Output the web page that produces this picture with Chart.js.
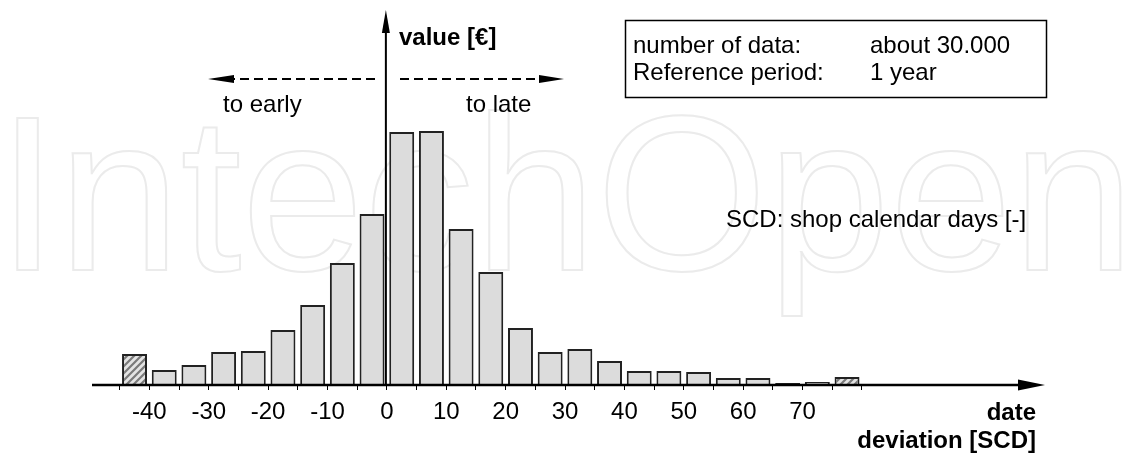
<!DOCTYPE html>
<html>
<head>
<meta charset="utf-8">
<script src="https://cdn.jsdelivr.net/npm/chart.js@4/dist/chart.umd.min.js"></script>
<style>
  body { margin: 0; background: #fff; }
  #wrap { width: 1145px; height: 455px; position: relative; }
</style>
</head>
<body>
<div id="wrap"><canvas id="histChart"></canvas></div>
<script>
// bin centres of the 5-SCD classes (first and last are the open end classes)
const binCenters = [-42.5, -37.5, -32.5, -27.5, -22.5, -17.5, -12.5, -7.5, -2.5, 2.5, 7.5, 12.5,
  17.5, 22.5, 27.5, 32.5, 37.5, 42.5, 47.5, 52.5, 57.5, 62.5, 67.5, 72.5, 77.5];
const binValues = [31, 15, 20, 33, 34, 55, 80, 122, 171, 253, 254, 156,
  113, 57, 33, 36, 24, 14, 14, 13, 7, 7, 2, 3, 8];
const openBins = [-42.5, 77.5];
const binEdges = [-45, -40, -35, -30, -25, -20, -15, -10, -5, 0, 5, 10, 15, 20, 25,
  30, 35, 40, 45, 50, 55, 60, 65, 70, 75, 80];
const tickLabels = [-40, -30, -20, -10, 0, 10, 20, 30, 40, 50, 60, 70];

const FONT = "'Liberation Sans', Arial, sans-serif";
Chart.defaults.font.family = FONT;

function hatchPattern() {
  const c = document.createElement("canvas");
  c.width = 7; c.height = 7;
  const g = c.getContext("2d");
  g.fillStyle = "#e4e4e4";
  g.fillRect(0, 0, 7, 7);
  g.strokeStyle = "#7a7a7a";
  g.lineWidth = 2.2;
  g.beginPath();
  g.moveTo(-2, 9); g.lineTo(9, -2);
  g.moveTo(-2, 2); g.lineTo(2, -2);
  g.moveTo(5, 9); g.lineTo(9, 5);
  g.stroke();
  return g.createPattern(c, "repeat");
}
const hatch = hatchPattern();

function text(ctx, str, x, y, opts) {
  ctx.save();
  ctx.font = (opts && opts.bold ? "bold " : "") + "24px " + FONT;
  ctx.fillStyle = "#000";
  ctx.textAlign = (opts && opts.align) || "left";
  ctx.textBaseline = "alphabetic";
  ctx.fillText(str, x, y);
  ctx.restore();
}

const decor = {
  id: "decor",
  beforeDraw(chart) {
    const ctx = chart.ctx;
    ctx.save();
    ctx.fillStyle = "#fff";
    ctx.fillRect(0, 0, chart.width, chart.height);
    // faint publisher watermark
    ctx.font = "220px " + FONT;
    ctx.strokeStyle = "#ebebeb";
    ctx.lineWidth = 2;
    ctx.strokeText("IntechOpen", -3, 270);
    ctx.restore();
  },
  afterDraw(chart) {
    const ctx = chart.ctx;
    const area = chart.chartArea;
    const xs = chart.scales.x;
    const b = area.bottom;
    ctx.save();
    ctx.strokeStyle = "#000";
    ctx.fillStyle = "#000";

    // x axis with arrow
    ctx.lineWidth = 2.5;
    ctx.beginPath();
    ctx.moveTo(92, b);
    ctx.lineTo(1022, b);
    ctx.stroke();
    ctx.beginPath();
    ctx.moveTo(1018, b - 5.5);
    ctx.lineTo(1045, b);
    ctx.lineTo(1018, b + 5.5);
    ctx.closePath();
    ctx.fill();

    // y axis with arrow
    const x0 = xs.getPixelForValue(0) - 1;
    ctx.lineWidth = 2;
    ctx.beginPath();
    ctx.moveTo(x0, b);
    ctx.lineTo(x0, 30);
    ctx.stroke();
    ctx.beginPath();
    ctx.moveTo(x0 - 4, 33);
    ctx.lineTo(x0, 10);
    ctx.lineTo(x0 + 4, 33);
    ctx.closePath();
    ctx.fill();

    // dashed direction arrows
    ctx.lineWidth = 2;
    ctx.setLineDash([9, 5]);
    ctx.beginPath();
    ctx.moveTo(375, 79); ctx.lineTo(232, 79);
    ctx.moveTo(400, 79); ctx.lineTo(541, 79);
    ctx.stroke();
    ctx.setLineDash([]);
    ctx.beginPath();
    ctx.moveTo(234, 75); ctx.lineTo(208, 79); ctx.lineTo(234, 83); ctx.closePath();
    ctx.moveTo(539, 75); ctx.lineTo(564, 79); ctx.lineTo(539, 83); ctx.closePath();
    ctx.fill();

    // info box
    ctx.lineWidth = 1.5;
    ctx.strokeRect(625.5, 20.5, 421, 77);
    ctx.restore();

    text(ctx, "value [€]", 399, 45, { bold: true });
    text(ctx, "to early", 223, 112);
    text(ctx, "to late", 466, 112);
    text(ctx, "number of data:", 633, 53);
    text(ctx, "about 30.000", 870, 53);
    text(ctx, "Reference period:", 633, 80);
    text(ctx, "1 year", 870, 80);
    text(ctx, "SCD: shop calendar days [-]", 726, 227);
    text(ctx, "date", 1036, 420, { bold: true, align: "right" });
    text(ctx, "deviation [SCD]", 1036, 448, { bold: true, align: "right" });
  }
};

new Chart(document.getElementById("histChart"), {
  type: "bar",
  data: {
    datasets: [{
      data: binCenters.map((c, i) => ({ x: c, y: binValues[i] })),
      backgroundColor: binCenters.map(c => openBins.includes(c) ? hatch : "#dcdcdc"),
      borderColor: "#222",
      borderWidth: 2,
      categoryPercentage: 1,
      barPercentage: 0.84
    }]
  },
  options: {
    responsive: true,
    maintainAspectRatio: false,
    animation: false,
    layout: { padding: { left: 90, right: 105, top: 10, bottom: 0 } },
    plugins: { legend: { display: false }, tooltip: { enabled: false } },
    scales: {
      x: {
        type: "linear",
        min: -50,
        max: 110,
        offset: false,
        afterBuildTicks: s => { s.ticks = binEdges.map(v => ({ value: v })); },
        afterFit: s => { s.height = 70; },
        border: { display: false },
        grid: { offset: false, drawOnChartArea: false, drawTicks: true, tickLength: 5, color: "#000", lineWidth: 1 },
        ticks: {
          autoSkip: false,
          maxRotation: 0,
          padding: 8,
          color: "#000",
          font: { size: 24 },
          callback: v => tickLabels.includes(v) ? String(v) : ""
        }
      },
      y: {
        display: false,
        min: 0,
        max: 375
      }
    }
  },
  plugins: [decor]
});
</script>
</body>
</html>
